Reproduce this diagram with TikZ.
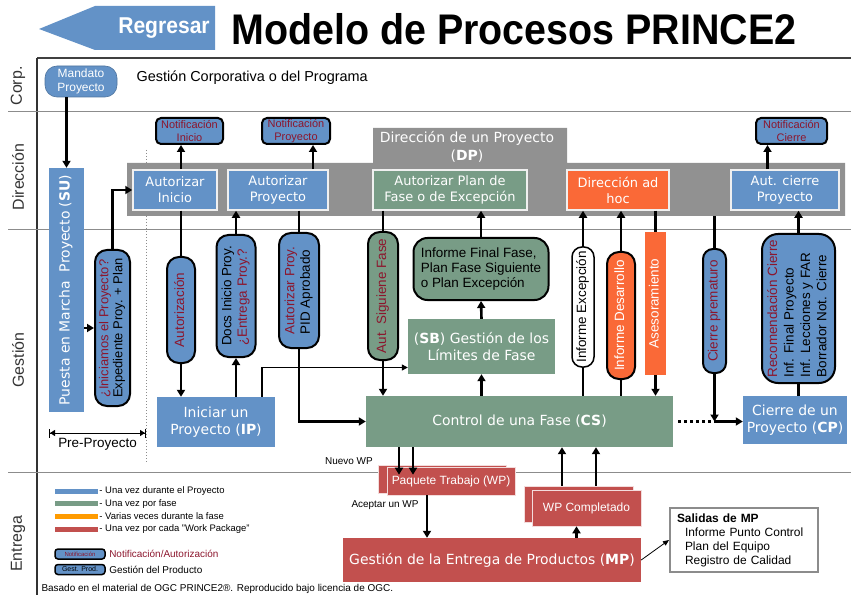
\documentclass[tikz,border=0pt]{standalone}
\usepackage{fontspec}
\setmainfont{Liberation Sans}
\newfontfamily\boxfont{DejaVu Sans}
\newfontfamily\headfont[FakeStretch=0.92]{Liberation Sans}
\usetikzlibrary{arrows.meta,shadows}
\definecolor{pblue}{RGB}{99,146,199}
\definecolor{pgreen}{RGB}{120,156,134}
\definecolor{porange}{RGB}{250,105,55}
\definecolor{lorange}{RGB}{255,155,0}
\definecolor{pred}{RGB}{194,80,78}
\definecolor{dpgray}{RGB}{145,145,145}
\definecolor{dkred}{RGB}{140,22,45}
\newcommand{\vtxt}[1]{\rotatebox{90}{\begin{tabular}{@{}l@{}}#1\end{tabular}}}
\newcommand{\fsz}[2]{\fontsize{#1}{#2}\selectfont}

\begin{document}
\begin{tikzpicture}[x=1bp, y=-1bp, >={Triangle[length=7bp,width=8bp]},
  flow/.style={line width=2.6bp},
  sz/.style 2 args={minimum width=#1bp, minimum height=#2bp},
  proc/.style={fill=#1, text=white, inner sep=0, align=center, font=\boxfont\fsz{14}{17}},
  dpbox/.style={fill=#1, draw=white!88!gray, line width=1.5bp, text=white, inner sep=0, align=center, font=\boxfont\fsz{13}{16}},
  msg/.style={fill=#1, draw=black, line width=2bp, inner sep=0, font=\fsz{13.5}{15.5}},
  notif/.style={fill=pblue, draw=black, line width=2bp, rounded corners=5bp, inner sep=0, align=center, text=dkred, font=\fsz{11}{12.5}},
  wpbox/.style={fill=pred, draw=white!80!pred, line width=.6bp, text=white, inner sep=0, font=\fsz{12}{14}},
  rowlbl/.style={rotate=90, text=black!80, font=\fsz{16}{18}},
  small/.style={font=\fsz{10}{12}}]
\useasboundingbox (0,0) rectangle (851,595);

% cabecera
\fill[pblue] (39,29) -- (95,6) -- (215,6) -- (215,50) -- (95,50) -- cycle;
\node[text=white, font=\headfont\bfseries\fsz{23}{25}] (back) at (164,28) {Regresar};
\node[anchor=base, font=\headfont\bfseries\fsz{43}{46}] (title) at (514,45) {Modelo de Procesos PRINCE2};
\draw[line width=1.5bp, black!75] (37,58) -- (851,58);

% marco y filas
\draw[line width=1.5bp, black!80] (37,58) -- (37,595);
\foreach \y in {111,229,472}
  \draw[black!45, line width=.8bp] (8,\y) -- (851,\y);
\node[rowlbl] (rcorp) at (18,86) {Corp.};
\node[rowlbl] (rdir) at (18,177) {Dirección};
\node[rowlbl] (rges) at (18,360) {Gestión};
\node[rowlbl] (rent) at (18,544) {Entrega};
\draw[black!45, dotted, line width=1bp] (146,150) -- (146,463);

% Direccion de un Proyecto
\fill[dpgray] (127,163) -- (373,163) -- (373,128) -- (567,128) -- (567,163) -- (845,163) -- (845,216) -- (127,216) -- cycle;
\coordinate (dpbot) at (127,216);
\node[text=white, align=center, font=\boxfont\fsz{14}{18}] (dptitle) at (467,147) {Dirección de un Proyecto\\(\textbf{DP})};

% corporativo
\node[fill=pblue, draw=pblue!80!black, line width=.6bp, rounded corners=12bp, sz={72}{31}, inner sep=0, align=center, text=white, font=\fsz{12}{13.5}] (mandato) at (81,81.5) {Mandato\\Proyecto};
\node[anchor=west, font=\fsz{14.5}{17}] (gcp) at (133,78) {Gestión Corporativa o del Programa};

\node[dpbox=pblue, sz={84}{40}] (ai) at (175,190) {Autorizar\\Inicio};
\node[dpbox=pblue, sz={100}{40}] (ap) at (278,190) {Autorizar\\Proyecto};
\node[dpbox=pgreen, sz={154}{40}] (apf) at (450,190) {Autorizar Plan de\\Fase o de Excepción};
\node[dpbox=porange, sz={102}{40}] (dh) at (618,190) {Dirección ad\\hoc};
\node[dpbox=pblue, sz={108}{40}] (ac) at (785,190) {Aut. cierre\\Proyecto};

\node[notif, sz={67}{26}] (ni) at (189.5,131) {Notificación\\Inicio};
\node[notif, sz={68}{26}] (np) at (296,131) {Notificación\\Proyecto};
\node[notif, sz={71}{26}] (nc) at (791.5,131) {Notificación\\Cierre};

% gestion
\node[fill=pblue, sz={35}{244}, inner sep=0, text=white, font=\boxfont\fsz{14}{16}] (su) at (66.5,290) {\vtxt{Puesta en Marcha\ \ Proyecto (\textbf{SU})}};
\node[msg=pblue, sz={35}{156}, rounded corners=12bp, font=\fsz{13}{14}] (ini) at (112.5,328) {\vtxt{\textcolor{dkred}{¿Iniciamos el Proyecto?}\\Expediente Proy. + Plan}};
\node[msg=pblue, sz={28}{106}, rounded corners=12bp] (aut) at (181,310) {\vtxt{\textcolor{dkred}{Autorización}}};
\node[msg=pblue, sz={39}{122}, rounded corners=12bp] (docs) at (236,296) {\vtxt{Docs Inicio Proy.\\\textcolor{dkred}{¿Entrega Proy.?}}};
\node[msg=pblue, sz={40}{115}, rounded corners=12bp] (pid) at (299,290.5) {\vtxt{\textcolor{dkred}{Autorizar Proy.}\\PID Aprobado}};
\node[msg=pgreen, sz={30}{128}, rounded corners=12bp] (asf) at (383,296) {\vtxt{\textcolor{dkred}{Aut. Siguiene Fase}}};
\node[proc=pblue, sz={118}{50}] (ip) at (216,422) {Iniciar un\\Proyecto (\textbf{IP})};
\node[proc=pgreen, sz={147}{55}] (sb) at (481.5,346.5) {(\textbf{SB}) Gestión de los\\Límites de Fase};
\node[msg=pgreen, sz={135}{62}, rounded corners=14bp, align=left] (iff) at (481,269) {Informe Final Fase,\\Plan Fase Siguiente\\o Plan Excepción};
\node[proc=pgreen, sz={307}{51}] (cs) at (519.5,421.5) {Control de una Fase (\textbf{CS})};
\node[msg=white, sz={22}{120}, rounded corners=10bp, line width=1.5bp] (iex) at (583,307) {\vtxt{Informe Excepción}};
\node[msg=porange, sz={28}{127}, rounded corners=12bp, text=white] (ides) at (621,315.5) {\vtxt{Informe Desarrollo}};
\node[fill=porange, sz={21}{143}, inner sep=0, text=white, font=\fsz{13.5}{15.5}] (ase) at (655.5,303.5) {\vtxt{Asesoramiento}};
\node[msg=pblue, sz={23}{124}, rounded corners=10bp] (cpre) at (714.5,311) {\vtxt{\textcolor{dkred}{Cierre prematuro}}};
\node[msg=pblue, sz={73}{149}, rounded corners=16bp, font=\fsz{13.5}{16.5}] (rec) at (798.5,308.5) {\vtxt{\textcolor{dkred}{Recomendación Cierre}\\Inf. Final Proyecto\\Inf. Lecciones y FAR\\Borrador Not. Cierre}};
\node[proc=pblue, sz={104}{48}] (cp) at (795,420) {Cierre de un\\Proyecto (\textbf{CP})};

\coordinate (pp1) at (49,433);
\coordinate (pp2) at (146,433);
\draw[{Bar[width=9bp]Triangle[length=5bp,width=6bp]}-{Triangle[length=5bp,width=6bp]Bar[width=9bp]}, line width=1bp] (pp1) -- (pp2) node[midway, below=1bp, font=\fsz{13.5}{15}] (pplbl) {Pre-Proyecto};

% entrega
\node[wpbox, sz={128}{28}, copy shadow={shadow xshift=-9bp, shadow yshift=2bp}] (wp) at (451,481) {Paquete Trabajo (WP)};
\node[wpbox, sz={109}{36}, copy shadow={shadow xshift=-8bp, shadow yshift=4bp}] (wpc) at (586.5,508) {WP Completado};
\node[proc=pred, sz={298}{44}] (mp) at (492,560) {Gestión de la Entrega de Productos (\textbf{MP})};
\node[draw=black!45, fill=white, line width=2bp, text width=134bp, minimum height=64bp, inner xsep=7bp, align=left, font=\fsz{12}{14}] (smp) at (744,540) {\textbf{Salidas de MP}\\\hspace*{8bp}Informe Punto Control\\\hspace*{8bp}Plan del Equipo\\\hspace*{8bp}Registro de Calidad};
\node[small] (nwp) at (349,461) {Nuevo WP};
\node[small] (awp) at (385,505) {Aceptar un WP};

% conectores
\draw[->, flow] (mandato.south -| su.north) -- (su.north);
\draw[->, flow] (su.east |- ini.west) -- (ini.west);
\draw[->, flow] (ini.north) |- (ai.west);
\draw[flow] (aut.north |- ai.south) -- (aut.north);
\draw[->, flow] (aut.south) -- (aut.south |- ip.north);
\draw[->, flow] (aut.north |- ai.north) -- (aut.north |- ni.south);
\draw[->, flow] (docs.south |- ip.north) -- (docs.south);
\draw[->, flow] (docs.north) -- (docs.north |- ap.south);
\draw[->, flow] ([xshift=17bp]np.south |- ap.north) -- ([xshift=17bp]np.south);
\draw[flow] (pid.north |- ap.south) -- (pid.north);
\draw[->, flow] (pid.south) |- (cs.west);
\draw[flow] (asf.north |- apf.south) -- (asf.north);
\draw[->, flow] (asf.south) -- (asf.south |- cs.north);
\draw[->, line width=1.2bp, >={Triangle[length=6bp,width=6bp]}] ([xshift=46bp]ip.north) |- ([yshift=-21bp]sb.west);
\draw[->, flow] (sb.south |- cs.north) -- (sb.south);
\draw[->, flow] (sb.north) -- (iff.south);
\draw[->, flow] (iff.north) -- (iff.north |- apf.south);
\draw[flow] (iex.south |- cs.north) -- (iex.south);
\draw[->, flow] (iex.north) -- (iex.north |- dh.south);
\draw[flow] (ides.south |- cs.north) -- (ides.south);
\draw[->, flow] (ides.north) -- (ides.north |- dh.south);
\draw[flow] (ase.north |- dh.south) -- (ase.north);
\draw[->, flow] (ase.south) -- (ase.south |- cs.north);
\draw[flow] (cpre.north |- dpbot) -- (cpre.north);
\draw[->, flow] (cpre.south) -- (cpre.south |- cs.east);
\draw[flow, dash pattern=on 3bp off 3bp] ([xshift=5bp]cs.east) -- (cpre.south |- cs.east);
\draw[->, flow] (cpre.south |- cs.east) -- (cp.west |- cs.east);
\draw[flow] (rec.south |- cp.north) -- (rec.south);
\draw[->, flow] (rec.north) -- (rec.north |- ac.south);
\draw[->, flow] ([xshift=-24bp]nc.south |- ac.north) -- ([xshift=-24bp]nc.south);
\draw[->, flow] ([xshift=-52bp]wp.north |- cs.south) -- ([xshift=-52bp,yshift=-8bp]wp.north);
\draw[->, flow] ([xshift=-38bp]wp.north |- cs.south) -- ([xshift=-38bp,yshift=-8bp]wp.north);
\draw[->, flow] ([xshift=-24bp]wp.south) -- ([xshift=-24bp]wp.south |- mp.north);
\draw[->, flow] ([xshift=-10bp]wpc.south |- mp.north) -- ([xshift=-10bp]wpc.south);
\draw[->, flow] ([xshift=-24.5bp,yshift=4bp]wpc.north) -- ([xshift=-24.5bp]wpc.north |- cs.south);
\draw[->, flow] ([xshift=9.5bp,yshift=4bp]wpc.north) -- ([xshift=9.5bp]wpc.north |- cs.south);
\draw[->, line width=.8bp, >={Triangle[length=6bp,width=5bp]}] (mp.east) -- (smp.west);

% leyenda
\foreach \c/\t [count=\i] in {pblue/Una vez durante el Proyecto, pgreen/Una vez por fase, lorange/Varias veces durante la fase, pred/Una vez por cada "Work Package"}
{
  \node[fill=\c, sz={43}{5}, inner sep=0] (key\i) at (76.5,478.2+12.8*\i) {};
  \node[anchor=west, inner sep=1bp, font=\fsz{9.5}{11}] (keyt\i) at (key\i.east) {- \t};
}
\node[notif, sz={50}{10}, line width=1.5bp, rounded corners=3bp, font=\fsz{6}{7}] (keyn) at (80,554) {Notificación};
\node[notif, sz={50}{10}, line width=1.5bp, rounded corners=3bp, font=\fsz{7}{8}, text=black] (keyg) at (80,569.5) {Gest. Prod.};
\node[anchor=west, text=dkred, font=\fsz{10}{12}] (keynt) at (keyn.east) {Notificación/Autorización};
\node[anchor=west, font=\fsz{10}{12}] (keygt) at (keyg.east) {Gestión del Producto};
\node[anchor=west, font=\fsz{10}{11}] (foot) at (38,589) {Basado en el material de OGC PRINCE2®. Reproducido bajo licencia de OGC.};
\end{tikzpicture}
\end{document}
